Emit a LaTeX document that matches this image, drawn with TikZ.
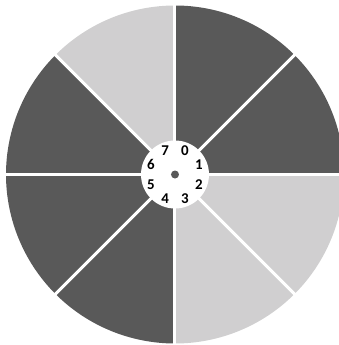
\documentclass[tikz,border=0pt]{standalone}
\usepackage{fontspec}
\setmainfont{Carlito}
\definecolor{segdark}{HTML}{595959}
\definecolor{seglight}{HTML}{D0CFD0}
\begin{document}
\begin{tikzpicture}[x=1bp,y=1bp,line cap=butt,line join=miter]
			\useasboundingbox (-175,-170.5) rectangle (164,174.5);
			\foreach \k/\c in {0/segdark,1/segdark,2/seglight,3/seglight,4/segdark,5/segdark,6/segdark,7/seglight}{
				\fill[\c] (0,0)--({90-45*\k}:169) arc[start angle={90-45*\k},end angle={45-45*\k},radius=169]--cycle;
			}
			\foreach \a in {0,45,...,315}{
				\draw[white,line width=3bp] (0,0)--(\a:171);
			}
			\fill[white] (0,0) circle (34);
			\fill[segdark] (0,0) circle (4);
			\foreach \k in {0,...,7}{
				\node[font=\bfseries\fontsize{15}{15}\selectfont,inner sep=0pt] (n\k) at ({67.5-45*\k}:26) {\k};
			}
		\end{tikzpicture}
\end{document}
